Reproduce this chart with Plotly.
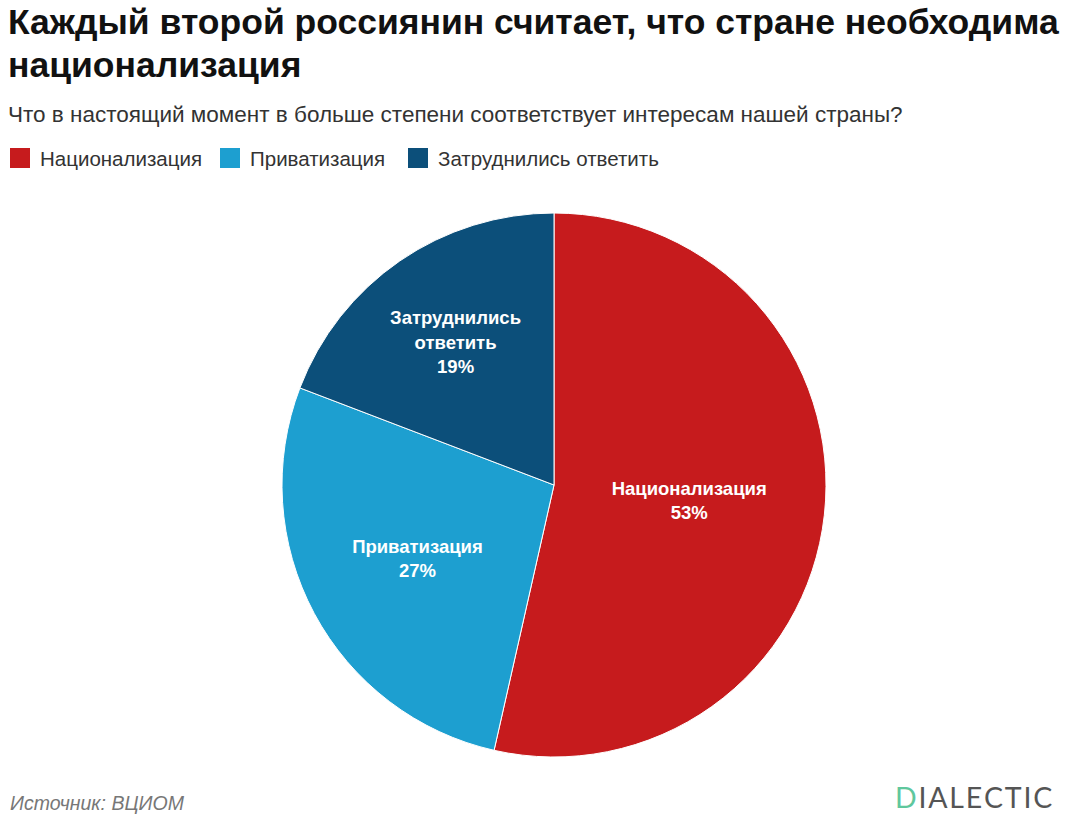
import plotly.graph_objects as go

categories = ["Национализация", "Приватизация", "Затруднились ответить"]
slice_labels = ["Национализация", "Приватизация", "Затруднились<br>ответить"]
values = [53, 27, 19]
colors = ["#C61B1D", "#1D9FD0", "#0C4F7A"]

title_l1 = "Каждый второй россиянин считает, что стране необходима"
title_l2 = "национализация"
subtitle = "Что в настоящий момент в больше степени соответствует интересам нашей страны?"
source = "Источник: ВЦИОМ"

W, H = 1080, 817
FONT = "Liberation Sans, Arial, sans-serif"

def px(x):
    return x / W

def py(y):
    return 1 - y / H

cx, cy, r = 554, 485, 272

fig = go.Figure(go.Pie(
    labels=categories,
    values=values,
    text=slice_labels,
    customdata=values,
    sort=False,
    direction="clockwise",
    rotation=0,
    marker=dict(colors=colors, line=dict(color="white", width=1)),
    texttemplate="<b>%{text}<br>%{customdata}%</b>",
    textposition="inside",
    insidetextorientation="horizontal",
    textfont=dict(family=FONT, size=18.5, color="white"),
    domain=dict(x=[px(cx - r), px(cx + r)], y=[py(cy + r), py(cy - r)]),
    hoverinfo="label+value",
    showlegend=False,
))

annotations = [
    dict(text=f"<b>{title_l1}</b>", x=px(6), y=py(22), xanchor="left", yanchor="middle",
         font=dict(family=FONT, size=35.5, color="#111111")),
    dict(text=f"<b>{title_l2}</b>", x=px(6), y=py(65), xanchor="left", yanchor="middle",
         font=dict(family=FONT, size=35.5, color="#111111")),
    dict(text=subtitle, x=px(6), y=py(115), xanchor="left", yanchor="middle",
         font=dict(family=FONT, size=22.5, color="#333333")),
    dict(text=f"<i>{source}</i>", x=px(8), y=py(803), xanchor="left", yanchor="middle",
         font=dict(family=FONT, size=19.5, color="#777777")),
    dict(text="<span style='color:#5fc79d'>D</span>\u200aI\u200aA\u200aL\u200aE\u200aC\u200aT\u200aI\u200aC",
         x=px(1054), y=py(797), xanchor="right", yanchor="middle",
         font=dict(family="Lato, Open Sans, sans-serif", size=28.5, color="#555555")),
]

# custom legend built from categories / colors
legend_x = [10, 220, 408]
shapes = []
for cat, col, lx in zip(categories, colors, legend_x):
    shapes.append(dict(type="rect", xref="paper", yref="paper",
                       x0=px(lx), x1=px(lx + 20), y0=py(168), y1=py(148),
                       fillcolor=col, line=dict(width=0)))
    annotations.append(dict(text=cat, x=px(lx + 28), y=py(158), xanchor="left", yanchor="middle",
                            font=dict(family=FONT, size=20.5, color="#333333")))

for a in annotations:
    a.update(xref="paper", yref="paper", showarrow=False)

fig.update_layout(
    width=W, height=H,
    margin=dict(l=0, r=0, t=0, b=0),
    paper_bgcolor="white",
    plot_bgcolor="white",
    annotations=annotations,
    shapes=shapes,
    showlegend=False,
)

fig.write_html("out.html")
